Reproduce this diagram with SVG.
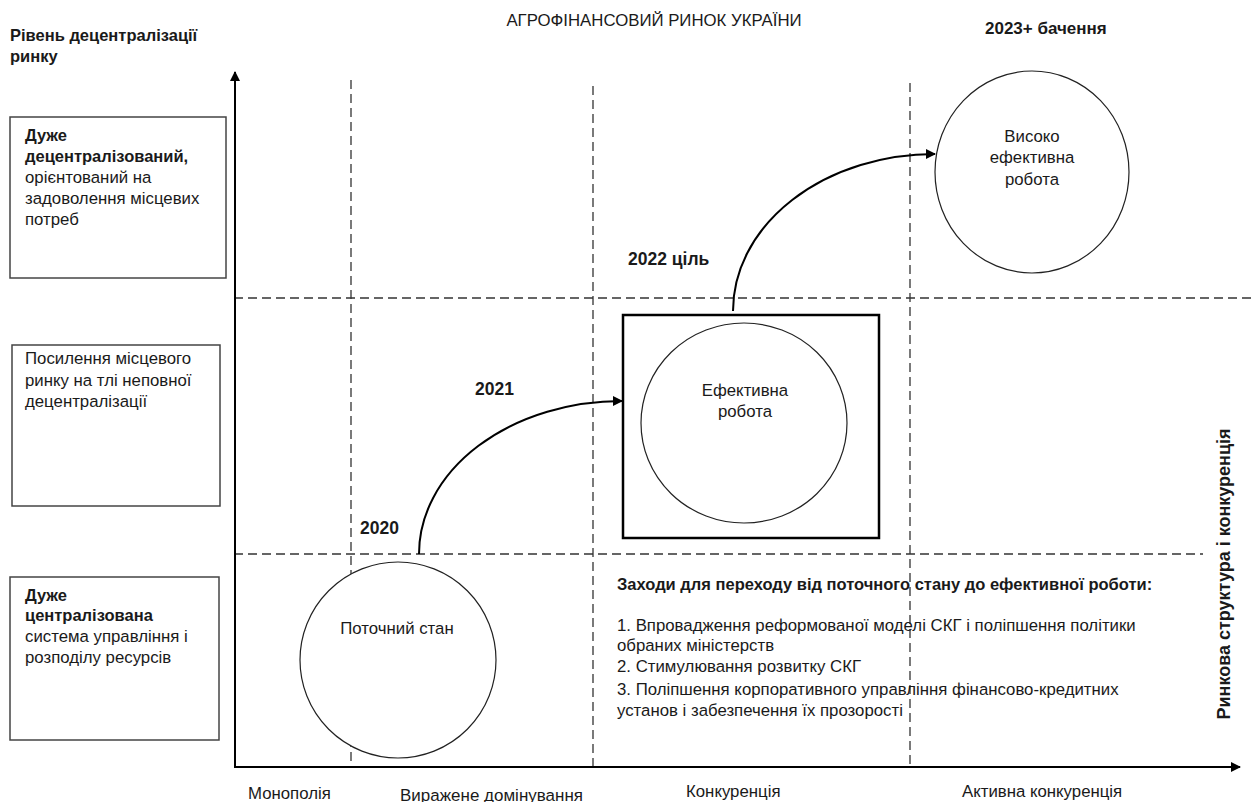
<svg xmlns="http://www.w3.org/2000/svg" width="1256" height="802" viewBox="0 0 1256 802">
<style>
text{font-family:"Liberation Sans",Arial,sans-serif;fill:#1a1a1a;font-size:16.8px}
.b{font-weight:bold;font-size:16.5px}
.c{text-anchor:middle}
.dash{stroke:#333;stroke-width:1.3;stroke-dasharray:9 5;fill:none}
.box{fill:#fff;stroke:#444;stroke-width:1.5}
.circ{fill:#fff;stroke:#222;stroke-width:1.2}
.conn{fill:none;stroke:#000;stroke-width:2}
</style>
<defs>
<marker id="ah" markerWidth="10" markerHeight="10" refX="9" refY="5" orient="auto" markerUnits="userSpaceOnUse">
<path d="M0,0 L10,5 L0,10 Z" fill="#000"/>
</marker>
</defs>
<rect width="1256" height="802" fill="#fff"/>

<g id="titles">
<text class="c" x="654" y="26" font-size="15.3">АГРОФІНАНСОВИЙ РИНОК УКРАЇНИ</text>
<text class="b" x="10" y="41">Рівень децентралізації</text>
<text class="b" x="10" y="62">ринку</text>
<text class="b" x="985" y="34" style="font-size:17px">2023+ бачення</text>
<text class="b" transform="translate(1230,574) rotate(-90)" text-anchor="middle" style="font-size:18px">Ринкова структура і конкуренція</text>
</g>

<g id="grid">
<line class="dash" x1="351" y1="80" x2="351" y2="767"/>
<line class="dash" x1="593" y1="86" x2="593" y2="767"/>
<line class="dash" x1="910" y1="83" x2="910" y2="767"/>
<line class="dash" x1="234" y1="298" x2="1256" y2="298"/>
<line class="dash" x1="234" y1="554" x2="1203" y2="554"/>
</g>

<g id="axes">
<line x1="235" y1="767" x2="235" y2="72" stroke="#000" stroke-width="2" marker-end="url(#ah)"/>
<line x1="234" y1="767" x2="1240" y2="767" stroke="#000" stroke-width="2" marker-end="url(#ah)"/>
<text x="248" y="799">Монополія</text>
<text x="400" y="801" textLength="183" lengthAdjust="spacingAndGlyphs">Виражене домінування</text>
<text x="686" y="797">Конкуренція</text>
<text x="962" y="797">Активна конкуренція</text>
</g>

<g id="box-decentral">
<rect class="box" x="10" y="117" width="216" height="161"/>
<text class="b" x="25" y="141">Дуже</text>
<text class="b" x="25" y="162">децентралізований,</text>
<text x="25" y="183">орієнтований на</text>
<text x="25" y="204">задоволення місцевих</text>
<text x="25" y="225">потреб</text>
</g>

<g id="box-partial">
<rect class="box" x="12" y="345" width="208" height="161"/>
<text x="25" y="364">Посилення місцевого</text>
<text x="25" y="386">ринку на тлі неповної</text>
<text x="25" y="407">децентралізації</text>
</g>

<g id="box-central">
<rect class="box" x="10" y="577" width="209" height="163"/>
<text class="b" x="25" y="601">Дуже</text>
<text class="b" x="25" y="621">централізована</text>
<text x="25" y="642">система управління і</text>
<text x="25" y="663">розподілу ресурсів</text>
</g>

<g id="node-current">
<circle class="circ" cx="398" cy="660" r="98"/>
<text class="c" x="397" y="634">Поточний стан</text>
</g>

<g id="node-effective">
<rect x="623" y="315" width="256" height="223" fill="#fff" stroke="#000" stroke-width="2.5"/>
<ellipse class="circ" cx="744" cy="423" rx="103" ry="100"/>
<text class="c" x="745" y="396">Ефективна</text>
<text class="c" x="745" y="417">робота</text>
</g>

<g id="node-high">
<ellipse class="circ" cx="1032" cy="172" rx="97" ry="101"/>
<text class="c" x="1032" y="142">Високо</text>
<text class="c" x="1032" y="163">ефективна</text>
<text class="c" x="1032" y="185">робота</text>
</g>

<g id="connectors">
<path class="conn" d="M419,554 A203,153 0 0 1 622,401" marker-end="url(#ah)"/>
<path class="conn" d="M733,311 A202,157 0 0 1 935,154" marker-end="url(#ah)"/>
</g>

<g id="labels">
<text class="b" x="360" y="534" style="font-size:17.5px">2020</text>
<text class="b" x="475" y="395" style="font-size:17.5px">2021</text>
<text class="b" x="628" y="265" style="font-size:17.5px">2022 ціль</text>
</g>

<g id="measures">
<text class="b" x="617" y="590">Заходи для переходу від поточного стану до ефективної роботи:</text>
<text x="617" y="631">1. Впровадження реформованої моделі СКГ і поліпшення політики</text>
<text x="617" y="651">обраних міністерств</text>
<text x="617" y="672">2. Стимулювання розвитку СКГ</text>
<text x="617" y="695">3. Поліпшення корпоративного управління фінансово-кредитних</text>
<text x="617" y="716">установ і забезпечення їх прозорості</text>
</g>
</svg>
